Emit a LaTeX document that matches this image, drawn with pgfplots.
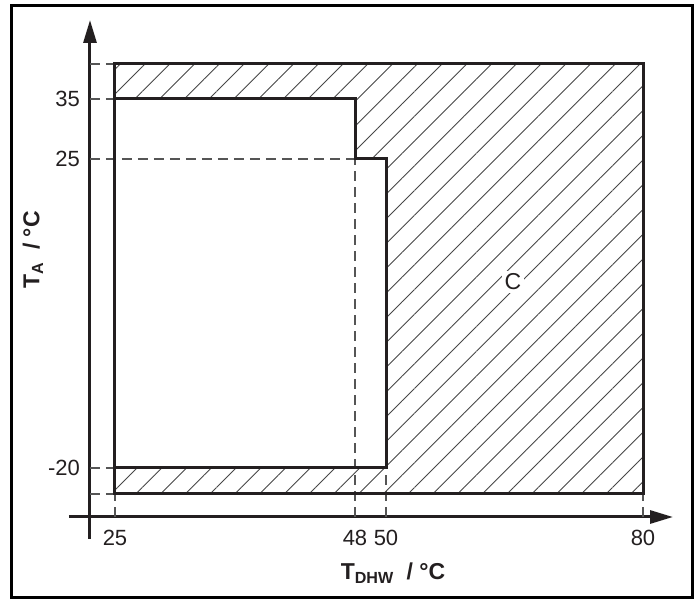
\documentclass[border=0pt]{standalone}
\usepackage{fontspec}
\setmainfont{Liberation Sans}
\usepackage{pgfplots}
\pgfplotsset{compat=1.18}
\usetikzlibrary{patterns.meta, arrows.meta}
\definecolor{ink}{HTML}{231F20}
\definecolor{dash}{HTML}{555555}
\begin{document}
\begin{tikzpicture}
\begin{axis}[
  x=1pt, y=1pt,
  xmin=-21, xmax=583, ymin=-22, ymax=497,
  axis lines=middle,
  axis line style={line width=3pt, color=ink},
  every inner x axis line/.append style={-{Triangle[length=23pt,width=13pt]}},
  every inner y axis line/.append style={-{Triangle[length=23pt,width=13pt]}},
  xtick={25,265,296,553}, xticklabels={25,48,50,80},
  ytick={49,358,418}, yticklabels={-20,25,35},
  major tick length=0pt,
  tick label style={font=\fontsize{22}{26}\selectfont, inner sep=0pt, text=ink},
  xticklabel style={anchor=north, yshift=-13pt},
  yticklabel style={anchor=east, xshift=-10pt},
  clip=false,
  dashline/.style={line width=1.2pt, color=dash, dash pattern=on 10pt off 6pt},
  outline/.style={line width=3pt, color=ink, line join=miter},
]
% hatched operating limits
\addplot[draw=none, pattern={Lines[angle=45,distance=17.5pt,line width=1pt]}, pattern color=black!72]
  coordinates {(25,23) (553,23) (553,453) (25,453)} -- cycle;
% white operating region
\addplot[draw=none, fill=white]
  coordinates {(25,49) (296,49) (296,358) (265,358) (265,418) (25,418)} -- cycle;
% dashed guide lines
\addplot[dashline] coordinates {(0,453) (25,453)};
\addplot[dashline] coordinates {(0,418) (25,418)};
\addplot[dashline] coordinates {(0,358) (265,358)};
\addplot[dashline] coordinates {(0,49) (25,49)};
\addplot[dashline] coordinates {(0,23) (25,23)};
\addplot[dashline] coordinates {(25,0) (25,23)};
\addplot[dashline] coordinates {(265,0) (265,358)};
\addplot[dashline] coordinates {(296,0) (296,49)};
\addplot[dashline] coordinates {(553,0) (553,23)};
% outlines
\addplot[outline] coordinates {(25,23) (553,23) (553,453) (25,453)} -- cycle;
\addplot[outline] coordinates {(25,49) (296,49) (296,358) (265,358) (265,418) (25,418)} -- cycle;
% labels
\node[fill=white, inner sep=3pt, font=\fontsize{23}{27}\selectfont, text=ink] at (axis cs:423,235) {C};
\node[font=\bfseries\fontsize{23}{27}\selectfont, text=ink] at (axis cs:303,-56) {T\textsubscript{DHW}\ \ / °C};
\node[rotate=90, font=\bfseries\fontsize{23}{27}\selectfont, text=ink] at (axis cs:-57,267) {T\textsubscript{A}\ \ / °C};
\coordinate (bl) at (axis cs:-90,-88);
\coordinate (tr) at (axis cs:607,517);
\coordinate (fbl) at (axis cs:-78,-81);
\coordinate (ftr) at (axis cs:602,511);
\end{axis}
\draw[line width=3pt, color=black] (fbl) rectangle (ftr);
\pgfresetboundingbox
\useasboundingbox (bl) rectangle (tr);
\end{tikzpicture}
\end{document}
